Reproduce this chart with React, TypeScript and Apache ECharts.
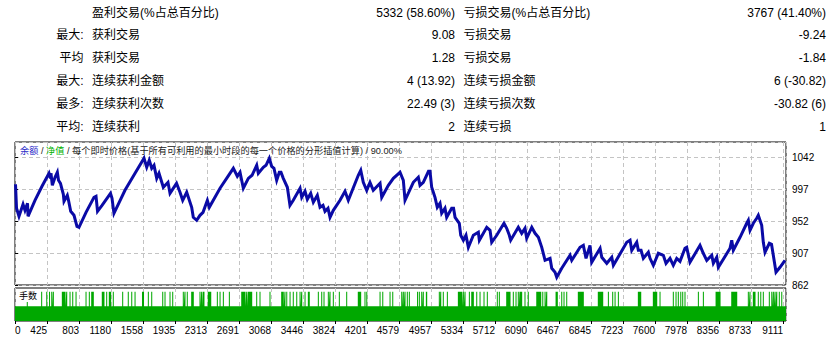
import React, { useEffect, useRef } from "react";
import * as echarts from "echarts";

// ---------- DATA ----------
const ROW_PREFIX = ["", "最大:", "平均", "最大:", "最多:", "平均:"];
const WIN_LABELS = ["盈利交易(%占总百分比)", "获利交易", "获利交易", "连续获利金额", "连续获利次数", "连续获利"];
const WIN_VALUES = ["5332 (58.60%)", "9.08", "1.28", "4 (13.92)", "22.49 (3)", "2"];
const LOSS_LABELS = ["亏损交易(%占总百分比)", "亏损交易", "亏损交易", "连续亏损金额", "连续亏损次数", "连续亏损"];
const LOSS_VALUES = ["3767 (41.40%)", "-9.24", "-1.84", "6 (-30.82)", "-30.82 (6)", "1"];

const X_TICK_LABELS = ["0", "425", "803", "1180", "1558", "1935", "2313", "2691", "3068", "3446", "3824", "4201", "4579", "4957", "5334", "5712", "6090", "6467", "6845", "7223", "7600", "7978", "8356", "8733", "9111"];

const TITLE_BALANCE = "余额";
const TITLE_EQUITY = "净值";
const TITLE_REST = "每个即时价格(基于所有可利用的最小时段的每一个价格的分形插值计算)";
const TITLE_PCT = "90.00%";
const LOTS_LABEL = "手数";

// [trade #, balance]
const EQUITY: [number, number][] = [
  [6, 1003.6], [18, 969.9], [47, 958.6], [95, 975.5], [118, 967.0], [148, 976.9], [154, 958.6],
  [236, 981.1], [319, 1000.8], [402, 1019.1], [419, 1012.0], [425, 1019.1], [441, 1002.2], [473, 1013.5],
  [500, 1020.5], [514, 1009.2], [537, 1005.0], [571, 989.5], [579, 979.7], [618, 988.1], [632, 981.1],
  [658, 965.6], [697, 960.0], [732, 944.5], [756, 943.1], [839, 964.2], [933, 985.3], [957, 986.7],
  [975, 965.6], [1028, 974.1], [1128, 991.0], [1146, 983.9], [1169, 962.8], [1299, 995.2], [1418, 1019.1],
  [1524, 1040.2], [1556, 1027.5], [1586, 1037.4], [1615, 1026.1], [1642, 1030.3], [1674, 1012.0],
  [1701, 1019.1], [1752, 999.4], [1807, 1006.4], [1831, 991.0], [1908, 1005.0], [1949, 992.4],
  [1981, 981.1], [2028, 992.4], [2087, 971.3], [2106, 957.2], [2146, 953.0], [2185, 960.0], [2221, 964.2],
  [2272, 981.1], [2295, 971.3], [2422, 998.0], [2579, 1026.1], [2626, 1014.9], [2658, 1020.5],
  [2697, 998.0], [2756, 1012.0], [2800, 1016.3], [2855, 1030.3], [2874, 1019.1], [2933, 1027.5],
  [2965, 1030.3], [3004, 1040.2], [3032, 1028.9], [3059, 1026.1], [3091, 1009.2], [3122, 1020.5],
  [3142, 1020.5], [3169, 1012.0], [3217, 999.4], [3248, 974.1], [3287, 981.1], [3367, 998.0],
  [3387, 985.3], [3426, 993.8], [3453, 982.5], [3493, 991.0], [3524, 978.3], [3571, 988.1],
  [3603, 971.3], [3638, 974.1], [3662, 965.6], [3697, 969.9], [3721, 957.2], [3760, 967.0],
  [3839, 981.1], [3898, 993.8], [3937, 981.1], [4055, 1016.3], [4084, 1023.3], [4114, 1006.4],
  [4154, 995.2], [4193, 1006.4], [4232, 995.2], [4312, 1005.0], [4332, 985.3], [4410, 1002.2],
  [4469, 1012.0], [4548, 1020.5], [4587, 1009.2], [4607, 981.1], [4705, 1006.4], [4764, 1013.5],
  [4784, 1002.2], [4823, 1006.4], [4884, 1021.9], [4902, 1021.9], [4922, 999.4], [4961, 985.3],
  [4988, 971.3], [5020, 976.9], [5040, 962.8], [5079, 969.9], [5099, 957.2], [5158, 969.9],
  [5180, 969.9], [5198, 957.2], [5248, 948.8], [5265, 931.9], [5296, 924.9], [5327, 931.9],
  [5355, 915.0], [5414, 931.9], [5473, 936.1], [5485, 924.9], [5572, 943.1], [5611, 938.9],
  [5631, 922.0], [5690, 931.9], [5776, 948.8], [5808, 941.7], [5839, 931.9], [5855, 924.9],
  [5945, 943.1], [5985, 934.7], [6024, 941.7], [6044, 927.7], [6104, 943.1], [6143, 934.7],
  [6182, 929.1], [6222, 915.0], [6261, 896.7], [6320, 899.5], [6340, 885.5], [6379, 879.9],
  [6399, 872.8], [6458, 885.5], [6556, 903.8], [6576, 896.7], [6674, 915.0], [6713, 917.8],
  [6745, 899.5], [6792, 917.8], [6812, 893.9], [6911, 913.6], [6931, 901.0], [6990, 892.5],
  [7049, 901.0], [7068, 889.7], [7226, 922.0], [7265, 924.9], [7285, 910.8], [7344, 922.0],
  [7363, 910.8], [7395, 910.8], [7422, 899.5], [7481, 908.0], [7501, 899.5], [7540, 889.7],
  [7599, 906.6], [7658, 903.8], [7690, 892.5], [7737, 899.5], [7776, 889.7], [7816, 899.5],
  [7855, 895.3], [7914, 913.6], [7934, 915.0], [7973, 893.9], [8091, 917.8], [8130, 906.6],
  [8171, 896.7], [8230, 903.8], [8249, 892.5], [8289, 901.0], [8308, 886.9], [8446, 913.6],
  [8466, 924.9], [8485, 910.8], [8564, 929.1], [8643, 948.8], [8662, 953.0], [8682, 938.9],
  [8721, 948.8], [8761, 955.8], [8780, 960.0], [8820, 946.0], [8839, 922.0], [8859, 908.0],
  [8910, 920.6], [8936, 919.2], [8957, 903.8], [8989, 879.9], [9036, 886.9], [9095, 896.7],
];

const BASE_LOT = 0.01;
const LARGE_LOT = 0.02;
const LAST_TRADE = 9107;
// trade ranges [from, to] traded with the larger lot
const LARGE_LOT_RANGES: [number, number][] = [
  [139, 151], [309, 321], [369, 381], [402, 414], [428, 440], [447, 459], [553, 597], [605, 617],
  [644, 656], [676, 688], [715, 727], [833, 845], [872, 884], [900, 931], [1025, 1057], [1077, 1089],
  [1108, 1136], [1155, 1167], [1266, 1278], [1332, 1344], [1373, 1385], [1412, 1424], [1500, 1524],
  [1569, 1581], [1609, 1621], [1739, 1751], [1766, 1778], [1825, 1837], [1857, 1869], [1982, 1994],
  [2002, 2014], [2029, 2041], [2081, 2112], [2179, 2191], [2199, 2211], [2218, 2238], [2277, 2318],
  [2384, 2396], [2416, 2428], [2455, 2467], [2526, 2538], [2672, 2723], [2731, 2743], [2750, 2802],
  [2849, 2861], [2888, 2900], [3006, 3018], [3144, 3175], [3183, 3195], [3204, 3216], [3243, 3255],
  [3281, 3293], [3322, 3334], [3361, 3373], [3381, 3393], [3420, 3432], [3459, 3482], [3577, 3589],
  [3617, 3629], [3644, 3656], [3695, 3707], [3715, 3727], [3754, 3766], [3825, 3837], [3912, 3924],
  [4049, 4089], [4128, 4140], [4149, 4161], [4306, 4318], [4338, 4350], [4424, 4436], [4456, 4468],
  [4562, 4574], [4581, 4593], [4601, 4613], [4628, 4640], [4652, 4664], [4749, 4761], [4770, 4782],
  [4798, 4810], [4817, 4829], [4853, 4869], [5006, 5018], [5023, 5035], [5053, 5065], [5101, 5113],
  [5231, 5283], [5290, 5302], [5310, 5322], [5361, 5373], [5389, 5420], [5448, 5460], [5487, 5499],
  [5534, 5546], [5573, 5585], [5691, 5703], [5715, 5727], [5802, 5853], [5880, 5892], [5912, 5924],
  [5939, 5951], [5959, 5991], [6018, 6030], [6057, 6069], [6157, 6216], [6228, 6240], [6255, 6267],
  [6275, 6287], [6385, 6412], [6452, 6464], [6479, 6491], [6511, 6523], [6648, 6719], [6884, 6948],
  [7003, 7015], [7054, 7066], [7082, 7094], [7121, 7133], [7357, 7397], [7534, 7586], [7613, 7625],
  [7770, 7782], [7802, 7814], [7829, 7841], [7858, 7870], [7881, 7893], [7908, 7920], [8066, 8078],
  [8125, 8137], [8275, 8334], [8460, 8531], [8656, 8668], [8676, 8688], [8715, 8747], [8774, 8786],
  [8803, 8815], [8833, 8845], [8904, 8916], [8933, 8945], [8952, 8964], [8972, 8984], [8992, 9004],
  [9022, 9034], [9051, 9063],
];

// axis settings
const X_INTERVAL = 378;
const Y_MIN = 862;
const Y_INTERVAL = 45;
const Y_MAX = 1063.1;
const LOT_AXIS_MAX = 0.0225;

// ---------- STYLE ----------
const FONT = "'Liberation Sans', 'Noto Sans CJK SC', sans-serif";
const BLUE = "#0a0aa6";
const GREEN = "#00a800";
const GRID_LINE = { show: true, lineStyle: { color: "#c4c4c4", type: [4, 3] as any, width: 1 } };

function buildLots(): [number, number][] {
  const pts: [number, number][] = [[0, BASE_LOT]];
  for (const [s, e] of LARGE_LOT_RANGES) {
    pts.push([s, BASE_LOT], [s, LARGE_LOT], [e, LARGE_LOT], [e, BASE_LOT]);
  }
  pts.push([LAST_TRADE, BASE_LOT]);
  return pts;
}

function buildTableGraphics() {
  const els: any[] = [];
  const rowY = (i: number) => 12.5 + i * 22.8;
  const txt = (x: number, y: number, text: string, align: string) => ({
    type: "text",
    x,
    y,
    silent: true,
    style: { text, fill: "#000", fontSize: 12, fontFamily: FONT, align, verticalAlign: "middle" },
  });
  for (let i = 0; i < WIN_LABELS.length; i++) {
    const y = rowY(i);
    if (ROW_PREFIX[i]) els.push(txt(83.5, y, ROW_PREFIX[i], "right"));
    els.push(txt(92, y, WIN_LABELS[i], "left"));
    els.push(txt(455, y, WIN_VALUES[i], "right"));
    els.push(txt(463.5, y, LOSS_LABELS[i], "left"));
    els.push(txt(826, y, LOSS_VALUES[i], "right"));
  }
  return els;
}

export default function App() {
  const ref = useRef<HTMLDivElement>(null);
  useEffect(() => {
    if (!ref.current) return;
    const chart = echarts.init(ref.current, undefined, { renderer: "svg" });
    const option: any = {
      animation: false,
      backgroundColor: "#fff",
      textStyle: { fontFamily: FONT },
      grid: [
        { left: 15, top: 142, width: 771, height: 143, show: true, borderColor: "#000", borderWidth: 1, backgroundColor: "#fff" },
        { left: 15, top: 288, width: 771, height: 33, show: true, borderColor: "#000", borderWidth: 1, backgroundColor: "#fff" },
      ],
      xAxis: [
        {
          gridIndex: 0, type: "value", min: 0, max: LAST_TRADE, interval: X_INTERVAL,
          axisLine: { show: false }, axisTick: { show: false }, axisLabel: { show: false },
          splitLine: GRID_LINE,
        },
        {
          gridIndex: 1, type: "value", min: 0, max: LAST_TRADE, interval: X_INTERVAL,
          axisLine: { show: false },
          axisTick: { show: true, length: 3, lineStyle: { color: "#000" } },
          axisLabel: {
            show: true, margin: 4, color: "#000", fontSize: 10, fontFamily: FONT,
            align: "right", alignMinLabel: "left", showMaxLabel: false, hideOverlap: false,
            formatter: (_v: number, i: number) => X_TICK_LABELS[i] ?? "",
          },
          splitLine: GRID_LINE,
        },
      ],
      yAxis: [
        {
          gridIndex: 0, type: "value", position: "right", min: Y_MIN, max: Y_MAX, interval: Y_INTERVAL,
          axisLine: { show: false },
          axisTick: { show: true, length: 3, lineStyle: { color: "#000" } },
          axisLabel: {
            show: true, margin: 6, color: "#000", fontSize: 10, fontFamily: FONT,
            showMaxLabel: false, showMinLabel: true,
            formatter: (v: number) => String(Math.round(v)),
          },
          splitLine: GRID_LINE,
        },
        { gridIndex: 1, type: "value", min: 0, max: LOT_AXIS_MAX, show: false, splitLine: { show: false } },
      ],
      series: [
        {
          type: "line", xAxisIndex: 0, yAxisIndex: 0, data: EQUITY, showSymbol: false, symbol: "none",
          silent: true, lineStyle: { color: BLUE, width: 3, join: "miter" }, z: 3,
        },
        {
          type: "line", xAxisIndex: 1, yAxisIndex: 1, data: buildLots(), showSymbol: false, symbol: "none",
          silent: true, lineStyle: { width: 0, color: GREEN }, areaStyle: { color: GREEN, opacity: 1 }, z: 3,
        },
      ],
      graphic: [
        ...buildTableGraphics(),
        {
          type: "text", x: 20, y: 151, silent: true, z: 10,
          style: {
            text: `{b|${TITLE_BALANCE}} / {g|${TITLE_EQUITY}} / ${TITLE_REST} / ${TITLE_PCT}`,
            fill: "#222", fontSize: 9.2, fontFamily: FONT, align: "left", verticalAlign: "middle",
            rich: {
              b: { fill: "#2a2ac8", fontSize: 9.2, fontFamily: FONT },
              g: { fill: "#00b000", fontSize: 9.2, fontFamily: FONT },
            },
          },
        },
        {
          type: "text", x: 17, y: 290, silent: true, z: 100,
          style: {
            text: LOTS_LABEL, fill: "#000", fontSize: 9, fontFamily: FONT, align: "left", verticalAlign: "top",
            backgroundColor: "#fff", padding: [1, 3, 2, 2],
          },
        },
      ],
    };
    chart.setOption(option);
    return () => chart.dispose();
  }, []);
  return (
    <div
      ref={ref}
      style={{ position: "fixed", left: 0, top: 0, width: 835, height: 339, background: "#fff" }}
    />
  );
}
